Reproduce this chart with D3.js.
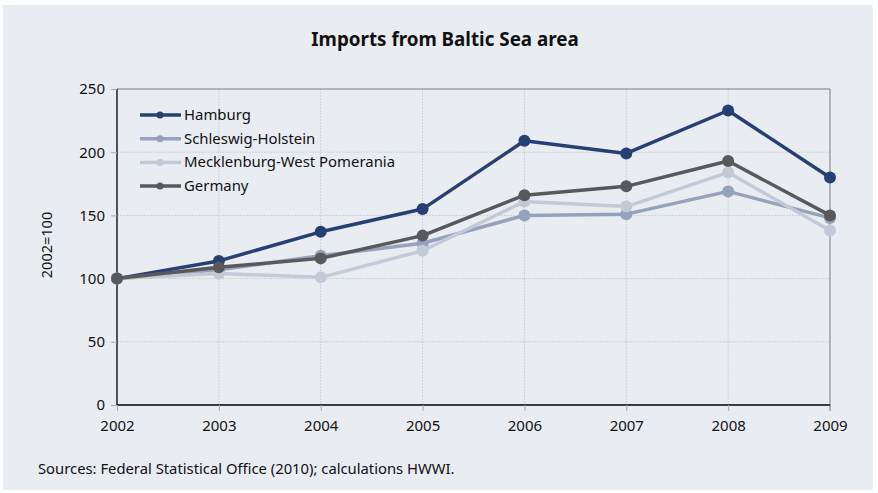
<!DOCTYPE html>
<html>
<head>
<meta charset="utf-8">
<script src="https://cdn.jsdelivr.net/npm/d3@7"></script>
<style>
  html, body { margin: 0; padding: 0; background: #ffffff; }
  svg { display: block; }
  text { font-family: "Noto Sans", "DejaVu Sans", sans-serif; }
</style>
</head>
<body>
<svg id="chart" width="878" height="493"></svg>
<script>
const years = [2002, 2003, 2004, 2005, 2006, 2007, 2008, 2009];
const hamburg = [100, 114, 137, 155, 209, 199, 233, 180];
const schleswigHolstein = [100, 107, 118, 128, 150, 151, 169, 148];
const mecklenburg = [100, 104, 101, 122, 161, 157, 184, 138];
const germany = [100, 109, 116, 134, 166, 173, 193, 150];
const yTicks = [0, 50, 100, 150, 200, 250];
const seriesNames = ["Hamburg", "Schleswig-Holstein", "Mecklenburg-West Pomerania", "Germany"];
const seriesColors = ["#263f74", "#95a1bd", "#c3cad7", "#59595b"];

const series = [
  { name: seriesNames[0], values: hamburg, color: seriesColors[0] },
  { name: seriesNames[1], values: schleswigHolstein, color: seriesColors[1] },
  { name: seriesNames[2], values: mecklenburg, color: seriesColors[2] },
  { name: seriesNames[3], values: germany, color: seriesColors[3] }
];

const svg = d3.select("#chart");
svg.append("rect").attr("x", 3).attr("y", 5).attr("width", 870).attr("height", 485).attr("fill", "#e9ecf1");

const pL = 117, pR = 830, pT = 89, pB = 405;
const x = d3.scaleLinear().domain([2002, 2009]).range([pL, pR]);
const y = d3.scaleLinear().domain([0, 250]).range([pB, pT]);

// grid
const g = svg.append("g");
g.selectAll(".hgrid").data(yTicks.filter(d => d > 0 && d < 250)).join("line")
  .attr("x1", pL).attr("x2", pR).attr("y1", d => y(d)).attr("y2", d => y(d))
  .attr("stroke", "#cfd2d8").attr("stroke-width", 1).attr("stroke-dasharray", "2,1");
g.selectAll(".vgrid").data(years.slice(1, -1)).join("line")
  .attr("x1", d => x(d)).attr("x2", d => x(d)).attr("y1", pT).attr("y2", pB)
  .attr("stroke", "#cfd2d8").attr("stroke-width", 1).attr("stroke-dasharray", "2,1");

// frame top and right
g.append("line").attr("x1", pL).attr("x2", pR).attr("y1", pT).attr("y2", pT).attr("stroke", "#7a7a7a");
g.append("line").attr("x1", pR).attr("x2", pR).attr("y1", pT).attr("y2", pB + 6).attr("stroke", "#7a7a7a");

// axes
const yAxis = d3.axisLeft(y).tickValues(yTicks).tickSize(6).tickPadding(6);
const yg = svg.append("g").attr("transform", `translate(${pL},0)`).call(yAxis);
yg.select(".domain").attr("stroke", "#000").attr("stroke-width", 1.3).attr("d", `M0,${pT}V${pB}`);
yg.selectAll(".tick line").attr("stroke", "#aaaaaa");
yg.selectAll(".tick text").attr("font-size", 15).attr("fill", "#111");

const xAxis = d3.axisBottom(x).tickValues(years).tickFormat(d3.format("d")).tickSize(6).tickPadding(9);
const xg = svg.append("g").attr("transform", `translate(0,${pB})`).call(xAxis);
xg.select(".domain").attr("stroke", "#000").attr("stroke-width", 1.3).attr("d", `M${pL},0H${pR}`);
xg.selectAll(".tick line").attr("stroke", "#aaaaaa");
xg.selectAll(".tick text").attr("font-size", 15).attr("fill", "#111");

// lines
const line = d3.line().x((d, i) => x(years[i])).y(d => y(d));
series.forEach(s => {
  svg.append("path").datum(s.values).attr("d", line)
    .attr("fill", "none").attr("stroke", s.color).attr("stroke-width", 3.5).attr("stroke-linejoin", "round");
  svg.append("g").selectAll("circle").data(s.values).join("circle")
    .attr("cx", (d, i) => x(years[i])).attr("cy", d => y(d)).attr("r", 6).attr("fill", s.color);
});

// legend
const lg = svg.append("g");
series.forEach((s, i) => {
  const ly = 115 + i * 23.7;
  lg.append("line").attr("x1", 140).attr("x2", 181).attr("y1", ly).attr("y2", ly)
    .attr("stroke", s.color).attr("stroke-width", 3.5);
  lg.append("circle").attr("cx", 160).attr("cy", ly).attr("r", 3.5).attr("fill", s.color);
  lg.append("text").attr("x", 184).attr("y", ly + 5).attr("font-size", 14.9).attr("fill", "#111").text(s.name);
});

// title
svg.append("text").attr("x", 445).attr("y", 46).attr("text-anchor", "middle")
  .attr("font-size", 18.8).attr("font-weight", "bold").attr("fill", "#111").text("Imports from Baltic Sea area");

// y label
svg.append("text").attr("transform", "translate(52,245) rotate(-90)").attr("text-anchor", "middle")
  .attr("font-size", 14.5).attr("fill", "#111").text("2002=100");

// source
svg.append("text").attr("x", 38).attr("y", 474).attr("font-size", 14.8).attr("fill", "#111")
  .text("Sources: Federal Statistical Office (2010); calculations HWWI.");
</script>
</body>
</html>
